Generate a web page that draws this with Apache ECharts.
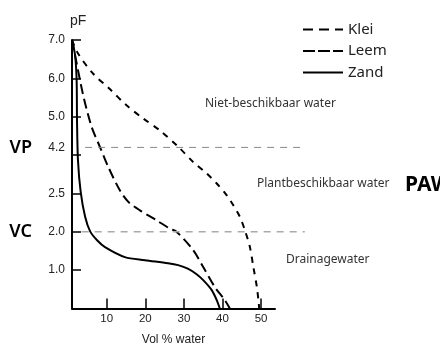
<!DOCTYPE html>
<html lang="nl">

<head>
  <meta charset="UTF-8">
  <script src="https://cdnjs.cloudflare.com/ajax/libs/echarts/6.0.0/echarts.min.js"></script>
  <title>pF-curve</title>
  <style>
    html,
    body,
    main {
      height: 100%;
      width: 100%;
      padding: 0;
      margin: 0;
      background: #fff;
    }
  </style>
</head>

<body>
  <main></main>
</body>
<script>
  // schematic pF axis: positions 0..7, labels don't follow a linear scale
  const yTickPos = [1, 2, 3, 4, 5, 6, 7]
  const yLabelPos = [1, 2, 3, 4.2, 5, 6, 7]
  const yLabelText = ['1.0', '2.0', '2.5', '4.2', '5.0', '6.0', '7.0']
  const xTicks = [10, 20, 30, 40, 50]

  const kleiVol = [1, 2.6, 6.5, 10.8, 15.2, 19.5, 23.8, 28.4, 32.4, 35.9, 38.5, 41.1, 42.8, 44.5, 45.8, 47.1, 48.0, 48.9, 49.4, 49.5]
  const kleiPF = [7.0, 6.64, 6.12, 5.72, 5.29, 4.95, 4.64, 4.23, 3.82, 3.52, 3.26, 2.95, 2.69, 2.39, 2.04, 1.60, 1.08, 0.56, 0.13, 0]

  const leemVol = [1, 1.8, 3.9, 6.1, 8.25, 10.4, 13.4, 15.6, 18.6, 22.9, 26.4, 28.0, 32.4, 35.0, 38.0, 40.6, 41.9]
  const leemPF = [7.0, 6.6, 5.56, 4.73, 4.21, 3.69, 3.08, 2.78, 2.56, 2.30, 2.08, 2.01, 1.52, 1.08, 0.56, 0.22, 0]

  const zandVol = [1, 1.8, 2.2, 2.3, 2.55, 3.25, 4.4, 5.7, 7.5, 9.55, 14.7, 19.9, 25.9, 28.5, 31.0, 33.2, 35.0, 37.2, 38.5, 39.3]
  const zandPF = [7.0, 6.6, 5.95, 4.9, 3.86, 3.04, 2.39, 2.01, 1.78, 1.60, 1.34, 1.26, 1.18, 1.13, 1.04, 0.9, 0.74, 0.48, 0.22, 0]

  // VP / VC reference lines (wilting point, field capacity)
  const vpLine = [[4.4, 4.2], [61.3, 4.2]]
  const vcLine = [[3.5, 2.0], [61.3, 2.0]]
  const refLabelPos = [2.0, 4.2]
  const refLabelText = ['VC', 'VP']

  const zip = (xs, ys) => xs.map((x, i) => [x, ys[i]])

  const curve = (name, data, type) => ({
    type: 'line',
    name: name,
    xAxisIndex: 0,
    yAxisIndex: 0,
    data: data,
    symbol: 'none',
    smooth: 0.3,
    itemStyle: { color: '#000' },
    lineStyle: { color: '#000', width: 2, type: type }
  })

  const refLine = (data, color, width) => ({
    type: 'line',
    xAxisIndex: 1,
    yAxisIndex: 2,
    data: data,
    symbol: 'none',
    silent: true,
    lineStyle: { color: color, width: width, type: [7, 6] }
  })

  const axisBlack = { color: '#000', width: 2 }
  const sans = 'Noto Sans'

  const option = {
    animation: false,
    textStyle: { fontFamily: 'Liberation Sans' },
    grid: [
      { left: 72, right: 165, top: 40, bottom: 43.5 },
      { left: 72, right: 135, top: 40, bottom: 43.5 }
    ],
    legend: {
      orient: 'vertical',
      left: 297,
      top: 17,
      itemWidth: 40,
      itemHeight: 14,
      itemGap: 6.5,
      itemStyle: { opacity: 0 },
      textStyle: { fontFamily: sans, fontSize: 15, color: '#222' },
      data: [
        { name: 'Klei', lineStyle: { type: [10, 6] } },
        { name: 'Leem', lineStyle: { type: [12, 3] } },
        { name: 'Zand' }
      ]
    },
    xAxis: [
      {
        gridIndex: 0,
        type: 'value',
        min: 1,
        max: 53.6,
        name: 'Vol % water',
        nameLocation: 'middle',
        nameGap: 25,
        nameTextStyle: { fontSize: 12, color: '#222' },
        axisLine: { lineStyle: axisBlack },
        axisTick: { inside: true, length: 10, customValues: xTicks, lineStyle: { color: '#000', width: 1.5 } },
        axisLabel: { customValues: xTicks, fontSize: 11.5, color: '#222', margin: 4 },
        splitLine: { show: false }
      },
      { gridIndex: 1, type: 'value', min: 1, max: 61.36, show: false }
    ],
    yAxis: [
      {
        gridIndex: 0,
        type: 'value',
        min: 0,
        max: 7,
        name: 'pF',
        nameLocation: 'end',
        nameGap: 12,
        nameTextStyle: { fontSize: 14, color: '#222', align: 'left', padding: [0, 0, 0, -2] },
        axisLine: { onZero: false, lineStyle: axisBlack },
        axisTick: { inside: true, length: 9, customValues: yTickPos, lineStyle: { color: '#000', width: 1.5 } },
        axisLabel: {
          customValues: yLabelPos,
          fontSize: 12,
          color: '#222',
          margin: 7,
          formatter: (v) => yLabelText[yLabelPos.indexOf(v)] || ''
        },
        splitLine: { show: false }
      },
      {
        gridIndex: 0,
        type: 'value',
        min: 0,
        max: 7,
        position: 'left',
        offset: 32,
        axisLine: { show: false },
        axisTick: { show: false },
        axisLabel: {
          customValues: refLabelPos,
          fontFamily: sans,
          fontSize: 18,
          fontWeight: 600,
          color: '#000',
          margin: 8,
          formatter: (v) => refLabelText[refLabelPos.indexOf(v)] || ''
        },
        splitLine: { show: false }
      },
      { gridIndex: 1, type: 'value', min: 0, max: 7, show: false }
    ],
    graphic: [
      { type: 'text', x: 205, y: 104, style: { text: 'Niet-beschikbaar water', fontFamily: sans, fontSize: 12, fill: '#333', verticalAlign: 'middle' } },
      { type: 'text', x: 257, y: 184, style: { text: 'Plantbeschikbaar water', fontFamily: sans, fontSize: 12, fill: '#333', verticalAlign: 'middle' } },
      { type: 'text', x: 286, y: 260, style: { text: 'Drainagewater', fontFamily: sans, fontSize: 12, fill: '#333', verticalAlign: 'middle' } },
      { type: 'text', x: 405, y: 185, style: { text: 'PAW', fontFamily: sans, fontSize: 21, fontWeight: 'bold', fill: '#000', verticalAlign: 'middle' } }
    ],
    series: [
      curve('Klei', zip(kleiVol, kleiPF), [6, 6]),
      curve('Leem', zip(leemVol, leemPF), [10, 5]),
      curve('Zand', zip(zandVol, zandPF), 'solid'),
      refLine(vpLine, '#888', 1),
      refLine(vcLine, '#aaa', 1.5)
    ]
  }

  const ins = echarts.init(document.getElementsByTagName('main')[0])
  ins.setOption(option)
</script>

</html>
